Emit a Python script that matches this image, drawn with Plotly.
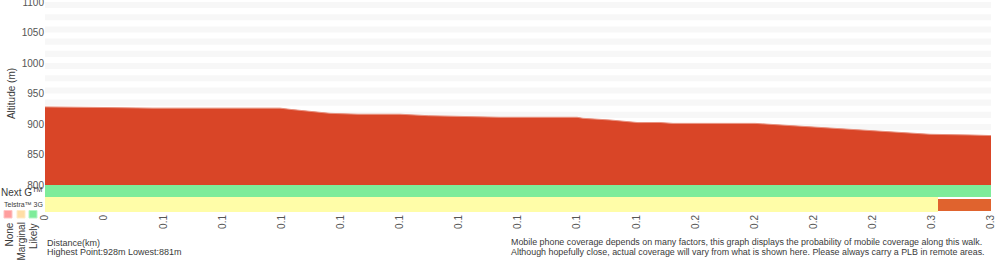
import plotly.graph_objects as go

# ---------------- data ----------------
distance_km = [0.0, 0.0135, 0.0203, 0.0365, 0.0795, 0.0829, 0.0896, 0.0964, 0.1059, 0.1201,
               0.1296, 0.1397, 0.1539, 0.1800, 0.1820, 0.1911, 0.1955, 0.2006, 0.2080, 0.2124,
               0.2402, 0.2452, 0.2510, 0.2564, 0.2622, 0.2713, 0.2814, 0.2868, 0.2936, 0.2994,
               0.3129, 0.3200]
altitude_m = [928, 928, 927, 926, 926, 924, 921, 917.5, 916, 916,
              913.6, 912.6, 911, 911, 909.3, 906.6, 905, 902.3, 902.5, 901,
              901, 899.5, 897.9, 895.6, 894, 891.8, 888.5, 886.4, 884.8, 883.1,
              882, 881]

x_tick_values = [i * 0.02 for i in range(17)]
x_tick_labels = ["0", "0", "0.1", "0.1", "0.1", "0.1", "0.1", "0.1", "0.1", "0.1",
                 "0.1", "0.2", "0.2", "0.2", "0.2", "0.3", "0.3"]
y_tick_values = [800, 850, 900, 950, 1000, 1050, 1100]

nextg_start = [0.0]
nextg_end = [0.32]
nextg_color = ["#7EEC9A"]

t3g_start = [0.0, 0.302]
t3g_end = [0.302, 0.32]
t3g_color = ["#FFFDA8", "#E0632E"]

legend_labels = ["None", "Marginal", "Likely"]
legend_colors = ["#FF9E9E", "#FFDEA6", "#7EEC9A"]
legend_borders = ["#FFC4C4", "#FFEBC9", "#B5F5C6"]

note_lines = [
    "Mobile phone coverage depends on many factors, this graph displays the probability of mobile coverage along this walk.",
    "Although hopefully close, actual coverage will vary from what is shown here. Please always carry a PLB in remote areas.",
]

# ---------------- layout helpers ----------------
W, H = 1000, 260
L, R, T, B = 45, 9, 2, 48
PW, PH = W - L - R, H - T - B
def px(x):
    return (x - L) / PW
def py(y):
    return (H - B - y) / PH

FONT = "Liberation Sans, Arial, Helvetica, sans-serif"
TXT = "#3a3a3a"

fig = go.Figure()

# altitude area
fig.add_trace(go.Scatter(
    x=distance_km, y=altitude_m, mode="lines", fill="tozeroy",
    fillcolor="#D94527", line=dict(color="#E8917F", width=1),
    xaxis="x", yaxis="y", hoverinfo="skip", showlegend=False))

# coverage rows (y2: 0 = Telstra 3G, 0.9 = Next G)
for s, e, c in zip(nextg_start, nextg_end, nextg_color):
    fig.add_trace(go.Bar(x=[e - s], base=[s], y=[0.9], orientation="h", width=0.8,
                         marker=dict(color=c, line=dict(width=0)),
                         xaxis="x", yaxis="y2", showlegend=False, hoverinfo="skip"))
for i, (s, e, c) in enumerate(zip(t3g_start, t3g_end, t3g_color)):
    fig.add_trace(go.Bar(x=[e - s], base=[s], y=[0 if i == 0 else -0.03], orientation="h",
                         width=1.0 if i == 0 else 0.8,
                         marker=dict(color=c, line=dict(width=0)),
                         xaxis="x", yaxis="y2", showlegend=False, hoverinfo="skip"))

# background stripes
shapes = []
for v in range(800, 1100, 20):
    shapes.append(dict(type="rect", xref="x domain", yref="y", x0=0, x1=1,
                       y0=v + 10, y1=v + 20, fillcolor="#F7F7F7", line=dict(width=0),
                       layer="below"))

# legend squares
sq_x = [4, 17, 29]
for x0, c, bc in zip(sq_x, legend_colors, legend_borders):
    shapes.append(dict(type="rect", xref="paper", yref="paper",
                       x0=px(x0), x1=px(x0 + 8), y0=py(218), y1=py(210.5),
                       fillcolor=c, line=dict(color=bc, width=1)))

annotations = [
    dict(text="Next G<sup>TM</sup>", x=px(44), y=py(192), xanchor="right", yanchor="middle",
         font=dict(size=10, color=TXT)),
    dict(text="Telstra™ 3G", x=px(2), y=py(204.5), xanchor="left", yanchor="middle",
         font=dict(size=7, color=TXT)),
    dict(text="Distance(km)", x=px(45), y=py(243), xanchor="left", yanchor="middle",
         font=dict(size=9, color=TXT)),
    dict(text=f"Highest Point:{max(altitude_m):.0f}m Lowest:{min(altitude_m):.0f}m",
         x=px(45), y=py(252), xanchor="left", yanchor="middle",
         font=dict(size=9, color=TXT)),
]
for x0, lab in zip([8.5, 20.5, 33], legend_labels):
    annotations.append(dict(text=lab, x=px(x0), y=py(221), xanchor="center", yanchor="top",
                            textangle=-90, font=dict(size=10, color=TXT)))
for k, line in enumerate(note_lines):
    annotations.append(dict(text=line, x=px(509), y=py(242 + 10 * k), xanchor="left",
                            yanchor="middle", font=dict(size=8.9, color=TXT)))
for a in annotations:
    a.update(xref="paper", yref="paper", showarrow=False)

split = 27 / PH
fig.update_layout(
    width=W, height=H, margin=dict(l=L, r=R, t=T, b=B, autoexpand=False),
    paper_bgcolor="white", plot_bgcolor="white",
    font=dict(family=FONT, size=10, color=TXT),
    barmode="overlay", bargap=0,
    xaxis=dict(range=[0, 0.32], tickvals=x_tick_values, ticktext=x_tick_labels,
               tickangle=-90, anchor="y2", showgrid=False, zeroline=False, showline=False,
               ticks="", automargin=False, tickfont=dict(size=10, color="#555")),
    yaxis=dict(domain=[split, 1], range=[800, 1100], tickvals=y_tick_values,
               showgrid=False, zeroline=False, showline=False, ticks="",
               ticklabeloverflow="allow", automargin=False,
               tickfont=dict(size=10, color="#555"),
               title=dict(text="Altitude (m)", font=dict(size=10, color=TXT), standoff=4)),
    yaxis2=dict(domain=[0, split], range=[-0.5, 1.3], visible=False, fixedrange=True),
    shapes=shapes, annotations=annotations,
)

fig.write_html("out.html")
